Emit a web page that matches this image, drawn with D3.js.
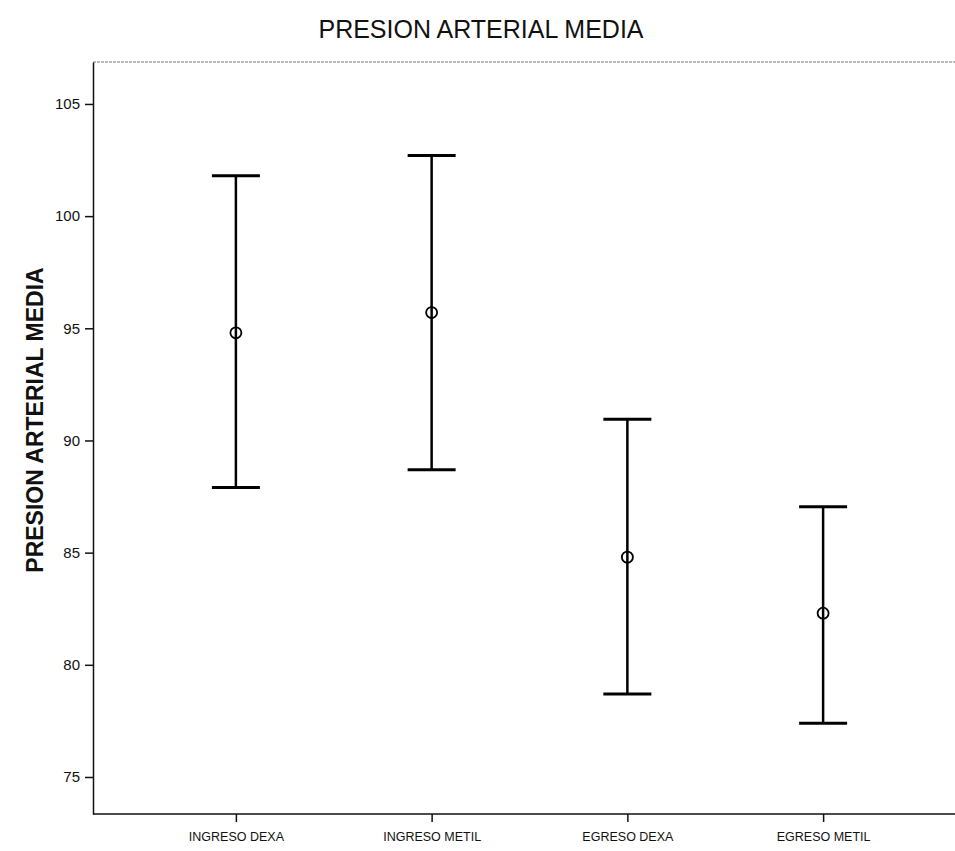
<!DOCTYPE html>
<html lang="es">
  <head>
    <meta charset="UTF-8" />
    <title>Presion arterial media</title>
    <style>
      body {
        margin: 0;
        background: #fff;
      }

      text {
        font-family: "Liberation Sans", Arial, sans-serif;
        fill: #111;
      }

      .axis path,
      .axis line {
        stroke: #111;
        stroke-width: 1.5px;
      }

      .axis text {
        font-size: 15px;
      }

      .frame-top {
        stroke: #777;
        stroke-width: 1px;
        stroke-dasharray: 3,1;
      }

      .err-line {
        stroke: #000;
        stroke-width: 2.5px;
      }

      .err-cap {
        stroke: #000;
        stroke-width: 3px;
      }

      .mean-dot {
        fill: none;
        stroke: #000;
        stroke-width: 1.8px;
      }
    </style>
  </head>

  <body>
    <script src="https://cdn.jsdelivr.net/npm/d3@7"></script>
    <script>

      // values
      var groups = ["INGRESO DEXA", "INGRESO METIL", "EGRESO DEXA", "EGRESO METIL"];
      var means  = [94.8, 95.7, 84.8, 82.3];
      var lower  = [87.9, 88.7, 78.7, 77.4];
      var upper  = [101.8, 102.7, 90.95, 87.05];
      var yTicks = [75, 80, 85, 90, 95, 100, 105];

      var data = groups.map(function(g, i) {
        return { group: g, mean: means[i], lo: lower[i], hi: upper[i] };
      });

      var w = 955,
          h = 851;

      var plot = { left: 93, top: 62, bottom: 814, right: 966 };

      var svg = d3.select("body").append("svg")
        .attr("width", w)
        .attr("height", h);

      var xScale = d3.scalePoint()
        .domain(groups)
        .range([plot.left, plot.right])
        .padding(0.73);

      var yScale = d3.scaleLinear()
        .domain([73.35, 106.87])
        .range([plot.bottom, plot.top]);

      // top border of the frame (scanned, faint)
      svg.append("line")
        .attr("class", "frame-top")
        .attr("x1", plot.left)
        .attr("x2", w)
        .attr("y1", plot.top)
        .attr("y2", plot.top);

      var xAxis = d3.axisBottom(xScale)
        .tickSize(8)
        .tickPadding(10)
        .tickSizeOuter(0);

      var gx = svg.append("g")
        .attr("class", "axis")
        .attr("transform", "translate(0," + plot.bottom + ")")
        .call(xAxis);
      gx.select(".domain").attr("d", "M" + plot.left + ",0H" + w);
      gx.selectAll("text").style("font-size", "12.5px");

      var yAxis = d3.axisLeft(yScale)
        .tickValues(yTicks)
        .tickSize(8)
        .tickPadding(5)
        .tickSizeOuter(0);

      svg.append("g")
        .attr("class", "axis")
        .attr("transform", "translate(" + plot.left + ",0)")
        .call(yAxis);

      // error bars
      var bars = svg.selectAll(".bar")
        .data(data)
        .enter()
        .append("g")
        .attr("class", "bar");

      bars.append("line")
        .attr("class", "err-line")
        .attr("x1", function(d) { return xScale(d.group); })
        .attr("x2", function(d) { return xScale(d.group); })
        .attr("y1", function(d) { return yScale(d.lo); })
        .attr("y2", function(d) { return yScale(d.hi); });

      ["lo", "hi"].forEach(function(k) {
        bars.append("line")
          .attr("class", "err-cap")
          .attr("x1", function(d) { return xScale(d.group) - 24; })
          .attr("x2", function(d) { return xScale(d.group) + 24; })
          .attr("y1", function(d) { return yScale(d[k]); })
          .attr("y2", function(d) { return yScale(d[k]); });
      });

      bars.append("circle")
        .attr("class", "mean-dot")
        .attr("cx", function(d) { return xScale(d.group); })
        .attr("cy", function(d) { return yScale(d.mean); })
        .attr("r", 5.5);

      // titles
      svg.append("text")
        .attr("x", 481)
        .attr("y", 38)
        .attr("text-anchor", "middle")
        .style("font-size", "25px")
        .text("PRESION ARTERIAL MEDIA");

      svg.append("text")
        .attr("transform", "translate(43," + 420 + ") rotate(-90)")
        .attr("text-anchor", "middle")
        .style("font-size", "23px")
        .style("font-weight", "bold")
        .text("PRESION ARTERIAL MEDIA");

    </script>
  </body>
</html>
